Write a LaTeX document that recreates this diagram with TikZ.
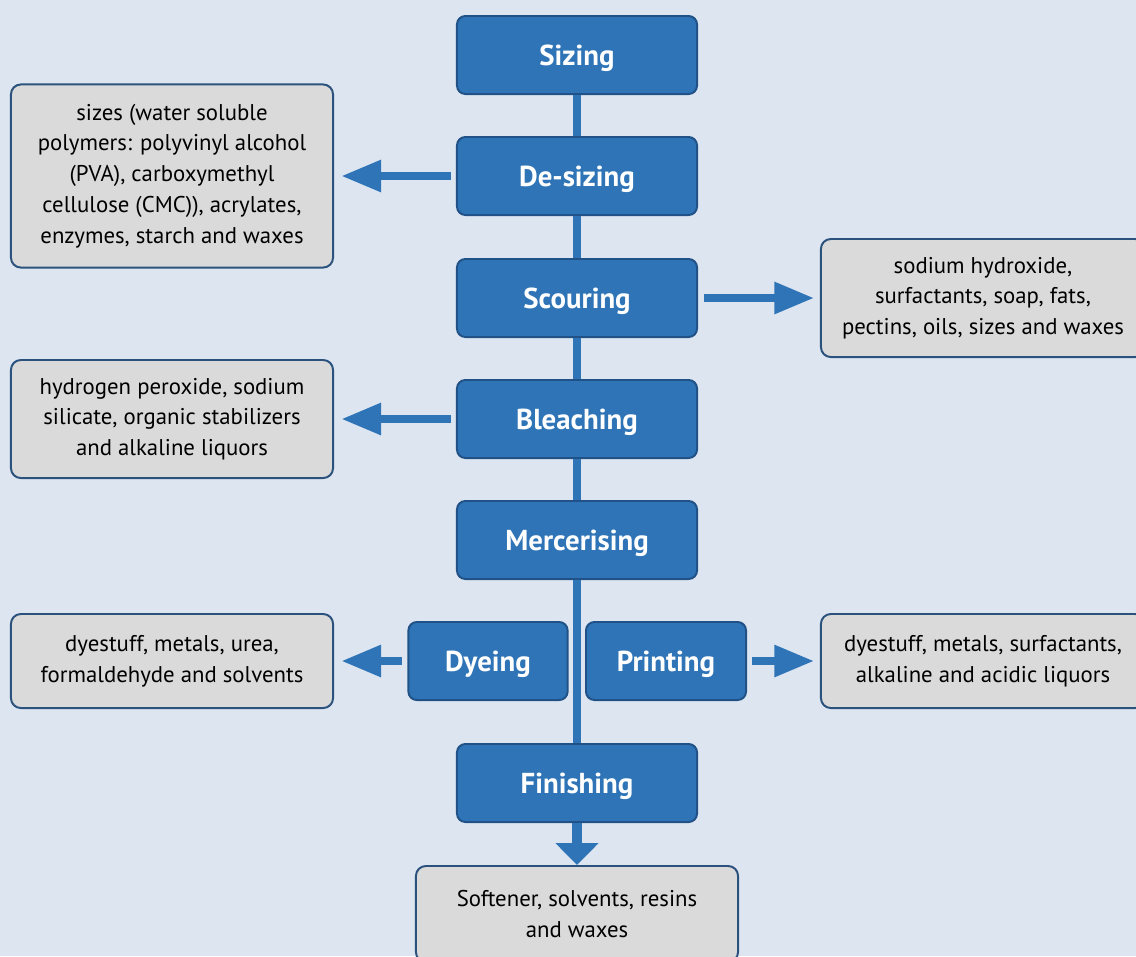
\documentclass[tikz,border=0pt]{standalone}
\usepackage{fontspec}
\setmainfont{PT Sans}
\usepackage{xcolor}
\definecolor{flowbg}{RGB}{221,229,241}
\definecolor{stepblue}{RGB}{46,116,182}
\definecolor{stepedge}{RGB}{33,82,135}
\definecolor{wastegray}{RGB}{218,218,218}
\definecolor{wasteedge}{RGB}{42,82,124}
\usepackage{tikz}
\usetikzlibrary{arrows.meta, positioning}

\tikzset{
  stepbox/.style={draw=stepedge, line width=1.4pt, fill=stepblue, rounded corners=6pt,
    text=white, font=\fontsize{20.5}{24}\selectfont\bfseries,
    text height=19pt, text depth=4pt,
    minimum width=6cm, minimum height=1.95cm, inner sep=0pt},
  wastebox/.style={draw=wasteedge, line width=1.4pt, fill=wastegray, rounded corners=7pt,
    align=center, font=\fontsize{16.2}{21.9}\selectfont, inner sep=0pt, minimum width=8.05cm},
  spine/.style={stepblue, line width=6pt},
  outflow/.style={stepblue, line width=6.2pt, -{Triangle[length=1cm, width=0.75cm]}},
  downflow/.style={stepblue, line width=7pt, -{Triangle[length=0.55cm, width=1.05cm]}}
}

\begin{document}
\begin{tikzpicture}[x=0.025cm, y=-0.025cm]
  \fill[flowbg] (0,0) rectangle (1136,956);
  \useasboundingbox (0,0) rectangle (1136,956);
  \clip (0,0) rectangle (1136,956);

  % process steps
  \node[stepbox] (sizing) at (577,55) {Sizing};
  \node[stepbox] (desizing) at (577,176) {De-sizing};
  \node[stepbox] (scouring) at (577,298) {Scouring};
  \node[stepbox] (bleaching) at (577,419) {Bleaching};
  \node[stepbox] (mercerising) at (577,540) {Mercerising};
  \node[stepbox, minimum width=3.98cm] (dyeing) at (488,661) {Dyeing};
  \node[stepbox, minimum width=4cm] (printing) at (666,661) {Printing};
  \node[stepbox] (finishing) at (577,783) {Finishing};

  % chemicals released
  \node[wastebox, minimum height=4.575cm] (desizingout) at (172,176)
    {sizes (water soluble\\polymers: polyvinyl alcohol\\(PVA), carboxymethyl\\cellulose (CMC)), acrylates,\\enzymes, starch and waxes};
  \node[wastebox, minimum height=2.95cm, minimum width=8.1cm] (scouringout) at (983,298)
    {sodium hydroxide,\\surfactants, soap, fats,\\pectins, oils, sizes and waxes};
  \node[wastebox, minimum height=2.95cm] (bleachingout) at (172,419)
    {hydrogen peroxide, sodium\\silicate, organic stabilizers\\and alkaline liquors};
  \node[wastebox, minimum height=2.35cm] (dyeingout) at (172,661)
    {dyestuff, metals, urea,\\formaldehyde and solvents};
  \node[wastebox, minimum height=2.35cm, minimum width=8.1cm] (printingout) at (983,661)
    {dyestuff, metals, surfactants,\\alkaline and acidic liquors};
  \node[wastebox, minimum height=2.4cm] (finishingout) at (577,914)
    {Softener, solvents, resins\\and waxes};

  % main line
  \draw[spine] (sizing.south) -- (desizing.north);
  \draw[spine] (desizing.south) -- (scouring.north);
  \draw[spine] (scouring.south) -- (bleaching.north);
  \draw[spine] (bleaching.south) -- (mercerising.north);
  \draw[spine] (mercerising.south) -- (finishing.north);
  \draw[downflow] (finishing.south) -- (finishingout.north);

  % side arrows
  \draw[outflow] ([xshift=-3.5pt]desizing.west) -- ([xshift=5pt]desizingout.east);
  \draw[outflow] ([xshift=4pt]scouring.east) -- ([xshift=-4pt]scouringout.west);
  \draw[outflow] ([xshift=-3.5pt]bleaching.west) -- ([xshift=5pt]bleachingout.east);
  \draw[outflow] ([xshift=-3.5pt]dyeing.west) -- ([xshift=5pt]dyeingout.east);
  \draw[outflow] ([xshift=3.5pt]printing.east) -- ([xshift=-4pt]printingout.west);
\end{tikzpicture}
\end{document}
